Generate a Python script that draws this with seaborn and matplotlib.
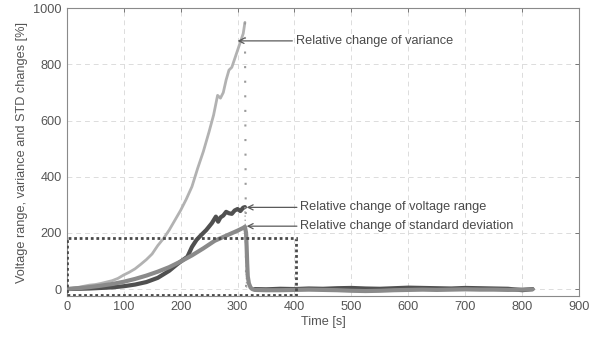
import matplotlib
matplotlib.use("Agg")
import matplotlib.pyplot as plt
from matplotlib.patches import Rectangle
import pandas as pd
import seaborn as sns

# Relative change of variance (rising part)
var_t = [0, 10, 20, 30, 40, 50, 60, 70, 80, 90, 100, 110, 120, 130, 140, 150, 160, 170, 180,
         190, 200, 210, 220, 230, 240, 250, 258, 265, 270, 275, 280, 285, 290, 295, 300, 305, 310, 313]
var_v = [0, 3, 6, 10, 14, 16, 20, 25, 30, 38, 50, 60, 72, 88, 105, 125, 155, 180, 210,
         245, 280, 320, 365, 430, 490, 560, 620, 690, 680, 700, 745, 780, 790, 820, 850, 880, 910, 950]

# Relative change of voltage range (rising part)
volt_t = [0, 20, 40, 60, 80, 100, 120, 140, 160, 180, 195, 205, 212, 220, 228, 235, 245, 255,
          262, 266, 270, 275, 280, 285, 290, 295, 300, 305, 310, 313]
volt_v = [0, 1, 2, 4, 6, 10, 16, 25, 40, 65, 90, 105, 115, 150, 175, 190, 210, 235,
          258, 240, 255, 262, 275, 270, 268, 280, 285, 278, 290, 292]

# Relative change of standard deviation (rising part and fast drop)
std_t = [0, 20, 40, 60, 80, 100, 120, 140, 160, 180, 200, 220, 240, 260, 280, 300, 310, 313,
         315, 316, 317, 318, 320, 323, 326, 330]
std_v = [0, 3, 7, 12, 18, 26, 36, 48, 62, 78, 98, 120, 145, 172, 190, 208, 218, 222,
         200, 150, 90, 45, 20, 5, 0, -3]

# after the drop
post_t = [330, 350, 375, 400, 425, 450, 475, 500, 525, 550, 575, 600, 625, 650, 675, 700,
          725, 750, 775, 800, 818]
var_post = [0, 0, -1, 0, 1, 0, -1, 0, 1, 0, -1, 0, 1, 0, 0, 1, 0, -1, 0, 0, 0]
volt_post = [0, -1, 1, 0, 2, 1, 3, 4, 2, 1, 3, 5, 4, 3, 2, 4, 3, 2, 1, -4, 0]
std_post = [-3, -4, -4, -3, -2, -3, -4, -6, -7, -6, -4, -3, -2, -3, -2, -1, -2, -2, -3, -2, -1]

# dotted jumps
var_drop_t = [313, 315]
var_drop_v = [950, 0]
volt_drop_t = [313, 316]
volt_drop_v = [292, 0]

labels = ["Relative change of variance", "Relative change of voltage range",
          "Relative change of standard deviation"]
colors = {"var": "#b2b2b2", "volt": "#505050", "std": "#8a8a8a"}

df = pd.concat([
    pd.DataFrame({"t": var_t + post_t, "v": var_v + var_post, "s": "var"}),
    pd.DataFrame({"t": volt_t + post_t, "v": volt_v + volt_post, "s": "volt"}),
    pd.DataFrame({"t": std_t + post_t[1:], "v": std_v + std_post[1:], "s": "std"}),
])

sns.set_style("white")
plt.rcParams['font.family'] = ['Liberation Sans', 'DejaVu Sans']
fs = 9.2

fig = plt.figure(figsize=(5.95, 3.38), dpi=100)
ax = fig.add_axes([0.112, 0.124, 0.8616, 0.8514])

# rising part and flat part drawn apart so the jumps can be dotted
for s, lw in [("var", 2.0), ("volt", 3.0)]:
    d = df[df["s"] == s]
    sns.lineplot(data=d[d["t"] <= 313], x="t", y="v", color=colors[s], lw=lw,
                 estimator=None, sort=False, ax=ax)
    sns.lineplot(data=d[d["t"] >= 330], x="t", y="v", color=colors[s], lw=lw,
                 estimator=None, sort=False, ax=ax)

sns.lineplot(x=var_drop_t, y=var_drop_v, color="#9a9a9a", lw=1.5, ls=(0, (1, 6)), ax=ax)
sns.lineplot(x=volt_drop_t, y=volt_drop_v, color="#a8a8a8", lw=1.0, ls=(0, (1, 2)), ax=ax)

d = df[df["s"] == "std"]
sns.lineplot(data=d, x="t", y="v", color=colors["std"], lw=3.0, estimator=None, sort=False, ax=ax)

ax.add_patch(Rectangle((0, -20), 403, 202, fill=False, ls=(0, (1, 1)), lw=2.0,
                       ec="#4a4a4a", zorder=5))

arrow = dict(arrowstyle="->", color="#5a5a5a", lw=0.9, shrinkA=0, shrinkB=0)
ax.annotate(labels[0], xy=(300, 884), xytext=(402, 884), arrowprops=arrow,
            fontsize=fs, color="#4a4a4a", va="center")
ax.annotate(labels[1], xy=(316, 291), xytext=(410, 291), arrowprops=arrow,
            fontsize=fs, color="#4a4a4a", va="center")
ax.annotate(labels[2], xy=(316, 224), xytext=(410, 224), arrowprops=arrow,
            fontsize=fs, color="#4a4a4a", va="center")

ax.set_xlim(0, 900)
ax.set_ylim(-25, 1000)
ax.set_xticks(range(0, 901, 100))
ax.set_yticks(range(0, 1001, 200))
ax.set_xlabel("Time [s]", fontsize=fs, color="#555555", labelpad=2)
ax.set_ylabel("Voltage range, variance and STD changes [%]", fontsize=fs, color="#555555",
              labelpad=4)
ax.grid(True, ls=(0, (5, 4)), color="#dcdcdc", lw=0.7)
ax.tick_params(direction="in", top=True, right=True, length=3, width=0.7,
               colors="#777777", labelcolor="#555555", labelsize=fs)
for sp in ax.spines.values():
    sp.set_color("#8a8a8a")
    sp.set_linewidth(0.8)

fig.savefig("out.png", dpi=100)
